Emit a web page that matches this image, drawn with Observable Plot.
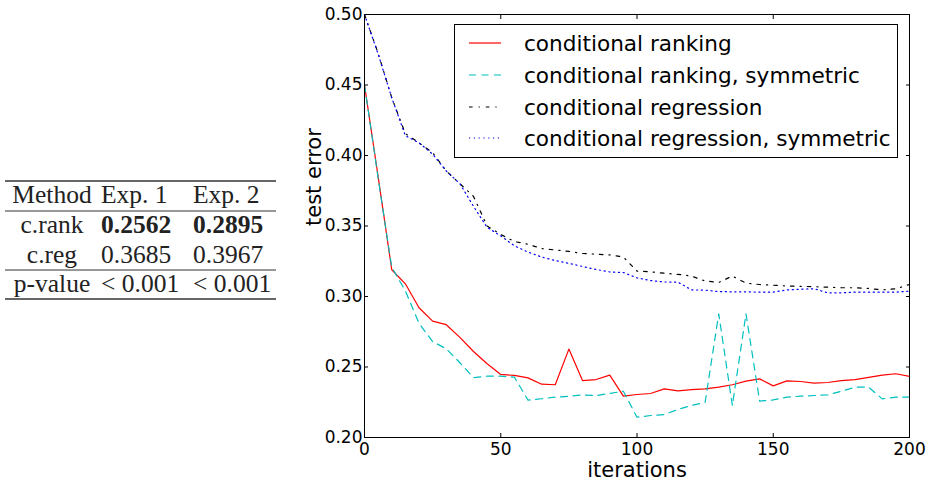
<!DOCTYPE html>
<html>
<head>
<meta charset="utf-8">
<script src="https://cdn.jsdelivr.net/npm/d3@7"></script>
<script src="https://cdn.jsdelivr.net/npm/@observablehq/plot@0.6"></script>
<style>
  body { margin: 0; background: #fff; }
  #wrap { position: relative; width: 927px; height: 480px; overflow: hidden; background: #fff; }
  #chart, #tbl, #legend { position: absolute; left: 0; top: 0; }
</style>
</head>
<body>
<div id="wrap">
  <div id="chart"></div>
  <svg id="tbl" width="290" height="480"></svg>
  <svg id="legend" width="927" height="480" style="pointer-events:none"></svg>
</div>
<script>
// ---------- data ----------
const iterations = [0, 5, 10, 15, 20, 25, 30, 35, 40, 45, 50, 55, 60, 65, 70, 75, 80, 85, 90, 95, 100,
  105, 110, 115, 120, 125, 130, 135, 140, 145, 150, 155, 160, 165, 170, 175, 180, 185, 190, 195, 200];

const condRanking = [0.450, 0.385, 0.319, 0.309, 0.292, 0.2825, 0.280, 0.271, 0.261, 0.2523, 0.2447,
  0.244, 0.2423, 0.2378, 0.2374, 0.2627, 0.2404, 0.2411, 0.2442, 0.2293, 0.2305,
  0.2312, 0.2345, 0.2331, 0.234, 0.2345, 0.2357, 0.2374, 0.240, 0.2416, 0.2366,
  0.2402, 0.2397, 0.2385, 0.239, 0.2404, 0.2411, 0.2426, 0.2442, 0.2452, 0.2433];

const condRankingSym = [0.450, 0.384, 0.3208, 0.304, 0.281, 0.268, 0.263, 0.253, 0.2425, 0.2435, 0.2435,
  0.2428, 0.2265, 0.2275, 0.2286, 0.2293, 0.2302, 0.2297, 0.2313, 0.2328, 0.2144,
  0.2156, 0.2163, 0.2199, 0.2227, 0.225, 0.2877, 0.2227, 0.2877, 0.2258, 0.2267,
  0.2286, 0.2293, 0.2298, 0.2302, 0.2328, 0.2357, 0.2357, 0.2274, 0.2286, 0.2286];

const condRegression = [0.500, 0.4725, 0.441, 0.4155, 0.409, 0.402, 0.389, 0.380, 0.371, 0.350, 0.344,
  0.339, 0.337, 0.334, 0.333, 0.332, 0.3305, 0.330, 0.3295, 0.328, 0.318,
  0.3175, 0.3165, 0.3157, 0.3145, 0.311, 0.310, 0.3145, 0.3095, 0.3085, 0.308,
  0.3075, 0.3072, 0.307, 0.3066, 0.3062, 0.3062, 0.3057, 0.3047, 0.3055, 0.3085];

const condRegressionSym = [0.500, 0.472, 0.441, 0.414, 0.409, 0.401, 0.389, 0.380, 0.364, 0.349, 0.343,
  0.336, 0.3315, 0.328, 0.3255, 0.3235, 0.3213, 0.3192, 0.3174, 0.317, 0.3132,
  0.3113, 0.3103, 0.3102, 0.3047, 0.3045, 0.3035, 0.3033, 0.3033, 0.3031, 0.3031,
  0.3047, 0.3052, 0.3055, 0.3026, 0.3026, 0.3031, 0.3031, 0.3031, 0.3031, 0.3038];

const seriesNames = ["conditional ranking", "conditional ranking, symmetric",
  "conditional regression", "conditional regression, symmetric"];
const seriesValues = [condRanking, condRankingSym, condRegression, condRegressionSym];
const seriesColors = ["#ff0000", "#00bfbf", "#000000", "#0000ff"];
const seriesDash = [null, "7,5.5", "3.6,6,1.2,6", "1.2,3.6"];

const xTicks = [0, 50, 100, 150, 200];
const yTicks = [0.20, 0.25, 0.30, 0.35, 0.40, 0.45, 0.50];
const xLabel = "iterations";
const yLabel = "test error";

const tableHeader = ["Method", "Exp. 1", "Exp. 2"];
const tableRows = [
  ["c.rank", "0.2562", "0.2895"],
  ["c.reg", "0.3685", "0.3967"],
  ["p-value", "< 0.001", "< 0.001"]
];
const boldRows = [0];

// ---------- chart ----------
const chart = Plot.plot({
  width: 927,
  height: 480,
  marginLeft: 364,
  marginRight: 18,
  marginTop: 14,
  marginBottom: 43,
  style: { fontFamily: "DejaVu Sans", background: "transparent", color: "#000" },
  x: { domain: [0, 200] },
  y: { domain: [0.2, 0.5] },
  marks: [
    ...seriesValues.map((vals, i) => Plot.line(vals, {
      x: iterations, y: vals,
      stroke: seriesColors[i], strokeWidth: 1.2,
      strokeDasharray: seriesDash[i] ?? undefined
    })),
    Plot.frame({ stroke: "#000", strokeWidth: 1 }),
    Plot.axisX({ ticks: xTicks, tickSize: -4, tickPadding: 9, fontSize: 17, label: null, stroke: "#000" }),
    Plot.axisX({ anchor: "top", ticks: xTicks, tickSize: -4, tickFormat: () => "", label: null, stroke: "#000" }),
    Plot.axisY({ ticks: yTicks, tickSize: -4, tickPadding: 6, tickFormat: d3.format(".2f"), fontSize: 17, label: null, stroke: "#000" }),
    Plot.axisY({ anchor: "right", ticks: yTicks, tickSize: -4, tickFormat: () => "", label: null, stroke: "#000" }),
    Plot.text([xLabel], { text: d => d, frameAnchor: "bottom", dy: 39, fontSize: 21, lineAnchor: "bottom", fill: "#000" }),
    Plot.text([yLabel], { text: d => d, frameAnchor: "left", dx: -44, rotate: -90, fontSize: 21, lineAnchor: "bottom", fill: "#000" })
  ]
});
document.getElementById("chart").appendChild(chart);

// ---------- legend ----------
const lg = d3.select("#legend");
lg.append("rect").attr("x", 454.5).attr("y", 24.5).attr("width", 443).attr("height", 133)
  .attr("fill", "#fff").attr("stroke", "#000").attr("stroke-width", 1);
const rowY = [43, 75, 107, 138];
seriesNames.forEach((name, i) => {
  lg.append("line").attr("x1", 469).attr("x2", 501).attr("y1", rowY[i]).attr("y2", rowY[i])
    .attr("stroke", seriesColors[i]).attr("stroke-width", 1.2)
    .attr("stroke-dasharray", seriesDash[i]);
  lg.append("text").attr("x", 524).attr("y", rowY[i]).attr("dy", "0.36em")
    .attr("font-family", "DejaVu Sans").attr("font-size", 21.6).attr("fill", "#000").text(name);
});

// ---------- table ----------
const tb = d3.select("#tbl");
const rules = [[181, 1.6], [211, 1], [270, 1], [299, 1.6]];
rules.forEach(([y, w]) => tb.append("line").attr("x1", 5).attr("x2", 276).attr("y1", y).attr("y2", y)
  .attr("stroke", "#333").attr("stroke-width", w));
const baselines = [203, 233, 263, 292];
const colX = [52, 101, 193];
const colAnchor = ["middle", "start", "start"];
[tableHeader, ...tableRows].forEach((row, r) => {
  row.forEach((cell, c) => {
    tb.append("text").attr("x", colX[c]).attr("y", baselines[r])
      .attr("text-anchor", colAnchor[c])
      .attr("font-family", "Liberation Serif").attr("font-size", 25.5).attr("fill", "#222")
      .attr("font-weight", (c > 0 && boldRows.includes(r - 1)) ? "bold" : "normal")
      .text(cell);
  });
});
</script>
</body>
</html>
